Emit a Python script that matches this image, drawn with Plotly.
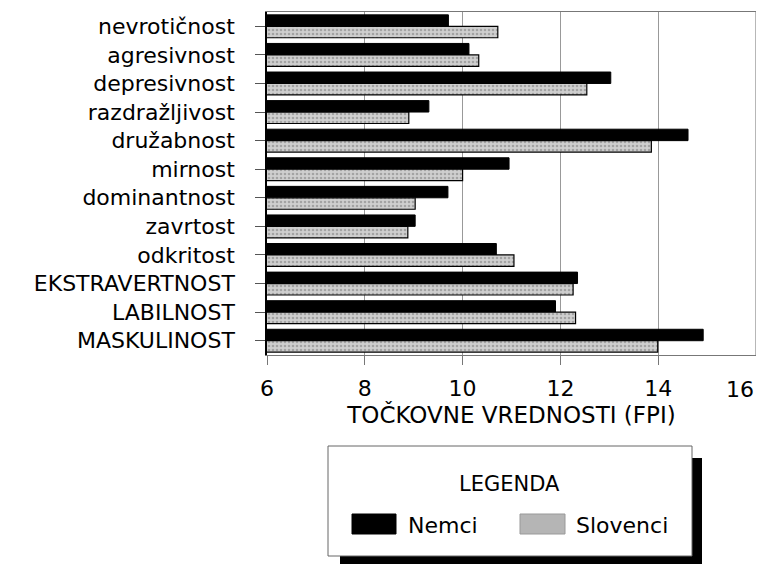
import plotly.graph_objects as go

categories = ["nevrotičnost", "agresivnost", "depresivnost", "razdražljivost",
              "družabnost", "mirnost", "dominantnost", "zavrtost", "odkritost",
              "EKSTRAVERTNOST", "LABILNOST", "MASKULINOST"]
nemci = [9.71, 10.13, 13.03, 9.31, 14.61, 10.95, 9.70, 9.03, 10.69, 12.35, 11.90, 14.92]
slovenci = [10.72, 10.33, 12.54, 8.90, 13.86, 10.00, 9.03, 8.88, 11.05, 12.26, 12.31, 13.99]
x_ticks = [6, 8, 10, 12, 14, 16]
x_tick_labels = ["6", "8", "10", "12", "14", "16"]

# the page body has an 8px margin, so the figure is drawn offset by 8px
OFF = 8
W, H = 764 - OFF, 564 - OFF
# plot area in window pixels
L, R, T, B = 267, 756, 12, 355

def px(x):
    return (x - L) / (R - L)

def py(y):
    return (B - y) / (B - T)

FONT = "DejaVu Sans"

fig = go.Figure()
fig.add_trace(go.Bar(
    y=categories, x=nemci, orientation="h", name="Nemci",
    marker=dict(color="black", line=dict(color="black", width=1)),
    showlegend=False,
))
fig.add_trace(go.Bar(
    y=categories, x=slovenci, orientation="h", name="Slovenci",
    marker=dict(color="#c4c4c4", line=dict(color="black", width=1.2),
                pattern=dict(shape=".", fgcolor="#777777", bgcolor="#cfcfcf",
                             size=4, solidity=0.35)),
    showlegend=False,
))

shapes = [
    # right frame border
    dict(type="line", xref="paper", yref="paper", x0=1, x1=1, y0=0, y1=1,
         line=dict(color="#888888", width=1.2)),
    # legend shadow
    dict(type="rect", xref="paper", yref="paper",
         x0=px(340), x1=px(702), y0=py(570), y1=py(458),
         fillcolor="black", line=dict(width=0), layer="above"),
    # legend box
    dict(type="rect", xref="paper", yref="paper",
         x0=px(328), x1=px(692), y0=py(556), y1=py(446),
         fillcolor="white", line=dict(color="#666666", width=1), layer="above"),
    # swatches
    dict(type="rect", xref="paper", yref="paper",
         x0=px(352), x1=px(396), y0=py(534), y1=py(514),
         fillcolor="black", line=dict(color="black", width=1), layer="above"),
    dict(type="rect", xref="paper", yref="paper",
         x0=px(520), x1=px(565), y0=py(534), y1=py(514),
         fillcolor="#b5b5b5", line=dict(color="#999999", width=1), layer="above"),
]

annotations = [
    # last tick label, kept inside the page so it is not cut off
    dict(text=x_tick_labels[-1], xref="x", yref="paper", x=x_ticks[-1], y=py(389),
         xanchor="right", yanchor="middle", showarrow=False,
         font=dict(family=FONT, size=22, color="black")),
    dict(text="LEGENDA", xref="paper", yref="paper", x=px(509), y=py(484),
         xanchor="center", yanchor="middle", showarrow=False,
         font=dict(family=FONT, size=21, color="black")),
    dict(text="Nemci", xref="paper", yref="paper", x=px(406), y=py(525),
         xanchor="left", yanchor="middle", showarrow=False,
         font=dict(family=FONT, size=22, color="black")),
    dict(text="Slovenci", xref="paper", yref="paper", x=px(574), y=py(525),
         xanchor="left", yanchor="middle", showarrow=False,
         font=dict(family=FONT, size=22, color="black")),
]

fig.update_layout(
    width=W, height=H,
    margin=dict(l=L - OFF, r=764 - R, t=T - OFF, b=564 - B, pad=0, autoexpand=False),
    paper_bgcolor="white", plot_bgcolor="white",
    barmode="group", bargap=0.2, bargroupgap=0.0,
    font=dict(family=FONT, color="black"),
    shapes=shapes, annotations=annotations,
    showlegend=False,
)
fig.update_xaxes(
    range=[6, 16], tickvals=x_ticks,
    ticktext=x_tick_labels[:-1] + [""],
    automargin=False,
    showgrid=True, gridcolor="#999999", gridwidth=1,
    showline=True, linecolor="#777777", linewidth=1, mirror=True,
    ticks="outside", ticklen=9, tickcolor="#777777",
    ticklabelstandoff=5,
    tickfont=dict(family=FONT, size=22, color="black"),
    title=dict(text="TOČKOVNE VREDNOSTI (FPI)", standoff=1,
               font=dict(family=FONT, size=23, color="black")),
    zeroline=False,
)
fig.update_yaxes(
    categoryorder="array", categoryarray=categories, autorange="reversed",
    automargin=False,
    showline=True, linecolor="black", linewidth=1.5,
    ticks="outside", ticklen=10, tickcolor="#555555",
    ticklabelstandoff=16,
    tickfont=dict(family=FONT, size=22, color="black"),
    showgrid=False,
)

fig.write_html("out.html")
